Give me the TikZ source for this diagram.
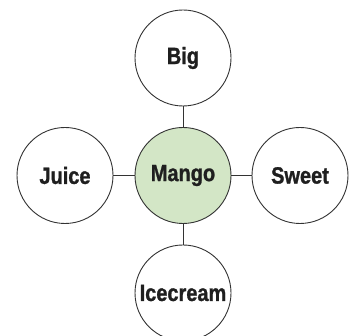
\documentclass[tikz,border=0pt]{standalone}
\usepackage{fontspec}
\setmainfont{Liberation Sans}
\newfontfamily\lblfont[FakeBold=1.2]{Liberation Sans Bold}
\definecolor{mangofill}{HTML}{D3E6C6}
\definecolor{edge}{HTML}{333333}
\newcommand{\lbl}[1]{\scalebox{0.85}[1]{#1}}
\begin{document}
\begin{tikzpicture}[x=1pt,y=1pt,
  bubble/.style={circle,draw=edge,line width=0.9pt,minimum size=96pt,inner sep=0pt,fill=white,
    font=\lblfont\fontsize{23.5}{25}\selectfont,text=black!88},
  center/.style={bubble,fill=mangofill},
  link/.style={draw=edge,line width=0.9pt}]
\useasboundingbox (0,0) rectangle (351,336);
\node[center] (mango) at (183,160.5) {\lbl{Mango}};
\node[bubble] (big) at (183,278) {\lbl{Big}};
\node[bubble] (juice) at (65,160.5) {\lbl{Juice}};
\node[bubble] (sweet) at (300,160.5) {\lbl{Sweet}};
\node[bubble] (ice) at (183,43) {\lbl{Icecream}};
\draw[link] (mango) -- (big);
\draw[link] (mango) -- (juice);
\draw[link] (mango) -- (sweet);
\draw[link] (mango) -- (ice);
\end{tikzpicture}
\end{document}
